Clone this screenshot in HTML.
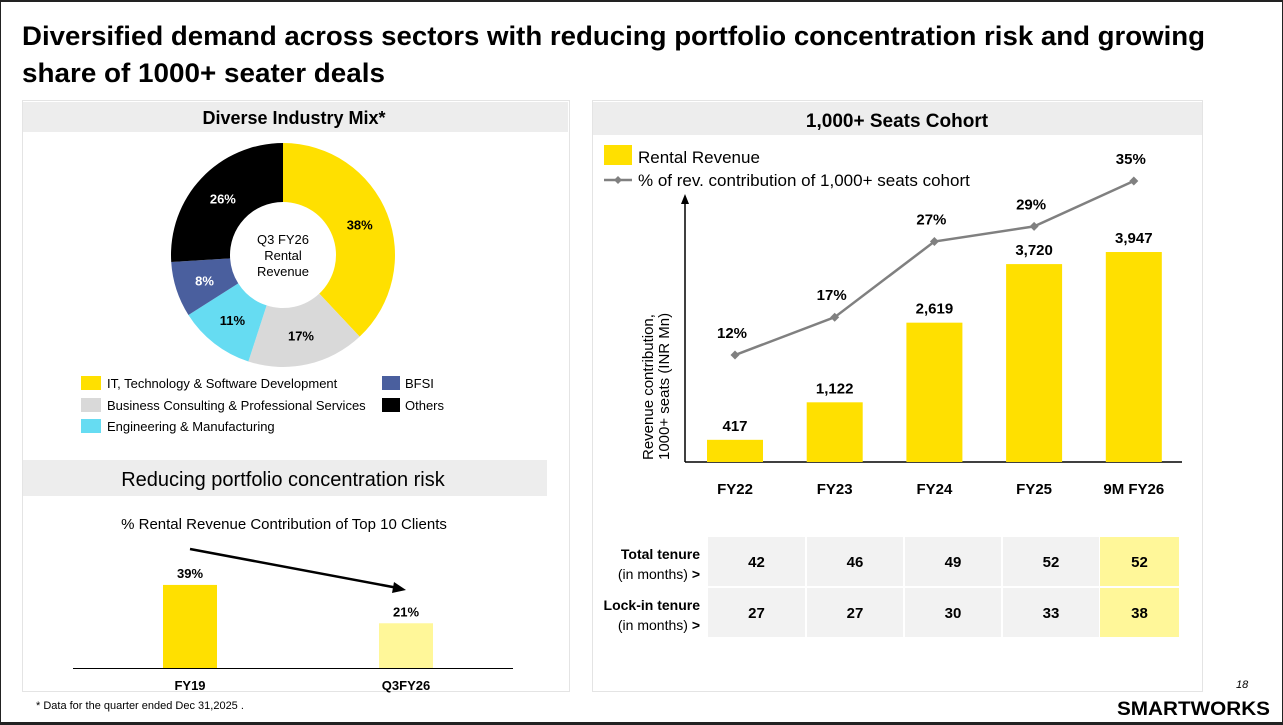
<!DOCTYPE html>
<html><head><meta charset="utf-8"><style>
html,body{margin:0;padding:0;background:#222;}
svg{display:block;font-family:"Liberation Sans",Arial,sans-serif;}
</style></head><body>
<svg id="s" width="1283" height="725" viewBox="0 0 1283 725">
<rect x="1" y="2" width="1281" height="720" fill="#fff"/>
<g font-weight="bold" font-size="27" fill="#000">
<text x="22" y="45" textLength="1183" lengthAdjust="spacingAndGlyphs">Diversified demand across sectors with reducing portfolio concentration risk and growing</text>
<text x="22" y="82" textLength="363" lengthAdjust="spacingAndGlyphs">share of 1000+ seater deals</text>
</g>
<rect x="22.5" y="100.5" width="547" height="591" fill="none" stroke="#c8c8c8" stroke-dasharray="1,1"/>
<rect x="23" y="102" width="545" height="30" fill="#ededed"/>
<text x="294" y="124" text-anchor="middle" font-size="18" font-weight="bold">Diverse Industry Mix*</text>
<g id="donut"></g>
<g id="legendL"></g>
<rect x="23" y="460" width="524" height="36" fill="#ededed"/>
<text x="283" y="486" text-anchor="middle" font-size="20">Reducing portfolio concentration risk</text>
<text x="284" y="529" text-anchor="middle" font-size="15">% Rental Revenue Contribution of Top 10 Clients</text>
<g id="conc"></g>
<line x1="190" y1="549" x2="398" y2="588" stroke="#000" stroke-width="2.5"/>
<polygon points="406,590 394,582 392,593" fill="#000"/>
<text x="36" y="709" font-size="11">* Data for the quarter ended Dec 31,2025 .</text>
<rect x="592.5" y="100.5" width="610" height="591" fill="none" stroke="#c8c8c8" stroke-dasharray="1,1"/>
<rect x="593" y="102" width="609" height="33" fill="#ededed"/>
<text x="897" y="127" text-anchor="middle" font-size="19" font-weight="bold">1,000+ Seats Cohort</text>
<rect x="604" y="145" width="28" height="20" fill="#ffe000"/>
<text x="638" y="163" font-size="17">Rental Revenue</text>
<line x1="604" y1="180" x2="632" y2="180" stroke="#808080" stroke-width="2.5"/>
<polygon points="618,176 622,180 618,184 614,180" fill="#808080"/>
<text x="638" y="186" font-size="17">% of rev. contribution of 1,000+ seats cohort</text>
<text transform="translate(653,460) rotate(-90)" font-size="15"><tspan x="0" y="0">Revenue contribution,</tspan><tspan x="0" y="16">1000+ seats (INR Mn)</tspan></text>
<g id="cohort"></g>
<g id="table"></g>
<text x="1236" y="688" font-size="11" font-style="italic">18</text>
<text x="1270" y="715" text-anchor="end" font-size="19" font-weight="bold" textLength="153" lengthAdjust="spacingAndGlyphs">SMARTWORKS</text>
</svg>
<script>
const NS="http://www.w3.org/2000/svg";
function mk(p,t,a,txt){const e=document.createElementNS(NS,t);for(const k in a)e.setAttribute(k,a[k]);if(txt!==undefined)e.textContent=txt;p.appendChild(e);return e;}
// Donut data
const sectors=["IT, Technology & Software Development","Business Consulting & Professional Services","Engineering & Manufacturing","BFSI","Others"];
const shares=[38,17,11,8,26];
const sectorColors=["#ffe000","#d9d9d9","#66dcf2","#4a5f9e","#000000"];
const donut=document.getElementById('donut');
const cx=283,cy=255,R=112,r=53;
let acc=0;const tot=shares.reduce((a,b)=>a+b,0);
shares.forEach((v,i)=>{
 const a0=acc/tot*2*Math.PI,a1=(acc+v)/tot*2*Math.PI;acc+=v;
 const pt=(rad,a)=>[cx+rad*Math.sin(a),cy-rad*Math.cos(a)];
 const [x0,y0]=pt(R,a0),[x1,y1]=pt(R,a1),[x2,y2]=pt(r,a1),[x3,y3]=pt(r,a0);
 const lg=(a1-a0)>Math.PI?1:0;
 const p=mk(donut,'path',{d:`M${x0},${y0}A${R},${R} 0 ${lg} 1 ${x1},${y1}L${x2},${y2}A${r},${r} 0 ${lg} 0 ${x3},${y3}Z`,fill:sectorColors[i]});
 
 
 const am=(a0+a1)/2,[lx,ly]=pt((R+r)/2,am);
 const t=mk(donut,'text',{x:lx,y:ly+5,'text-anchor':'middle','font-size':13,'font-weight':'bold',fill:(i>=3)?'#fff':'#000'},v+'%');
 
 
});
const ct=mk(donut,'text',{'text-anchor':'middle','font-size':13});


["Q3 FY26","Rental","Revenue"].forEach((s,i)=>mk(ct,'tspan',{x:cx,y:244+i*16},s));
// legend
const lgd=document.getElementById('legendL');
const lpos=[[81,376],[81,398],[81,419],[382,376],[382,398]];
sectors.forEach((s,i)=>{
 const sw=mk(lgd,'rect',{x:lpos[i][0],y:lpos[i][1],width:i>=3?18:20,height:14,fill:sectorColors[i]});
 
 
 const t=mk(lgd,'text',{x:lpos[i][0]+(i>=3?23:26),y:lpos[i][1]+12,'font-size':13},s);
 
 
});
// concentration chart
const concCats=["FY19","Q3FY26"];
const concVals=[39,21];
const concColors=["#ffe000","#fff799"];
const conc=document.getElementById('conc');
const cBase=668,cScale=2.13;
const cX=i=>190+i*216;
mk(conc,'line',{x1:73,y1:cBase+0.5,x2:513,y2:cBase+0.5,stroke:'#000','stroke-width':1});
concVals.forEach((v,i)=>{
 const h=v*cScale;
 const b=mk(conc,'rect',{x:cX(i)-27,y:cBase-h,width:54,height:h,fill:concColors[i]});
 
 
 const t=mk(conc,'text',{x:cX(i),y:cBase-h-7,'text-anchor':'middle','font-size':13,'font-weight':'bold'},v+'%');
 
 
 const c=mk(conc,'text',{x:cX(i),y:690,'text-anchor':'middle','font-size':13,'font-weight':'bold'},concCats[i]);
 
 
});
// cohort chart
const years=["FY22","FY23","FY24","FY25","9M FY26"];
const revenue=[417,1122,2619,3720,3947];
const revLabels=["417","1,122","2,619","3,720","3,947"];
const pct=[12,17,27,29,35];
const totalTenure=[42,46,49,52,52];
const lockTenure=[27,27,30,33,38];
const co=document.getElementById('cohort');
const base=462,xs=i=>735+i*99.7,yb=v=>base-v*0.0532,yp=v=>445.8-v*7.565;
mk(co,'line',{x1:685,y1:462,x2:685,y2:202,stroke:'#000','stroke-width':1.5});
mk(co,'polygon',{points:'685,194 681,204 689,204',fill:'#000'});
mk(co,'line',{x1:685,y1:462,x2:1182,y2:462,stroke:'#000','stroke-width':1.5});
revenue.forEach((v,i)=>{
 const b=mk(co,'rect',{x:xs(i)-28,y:yb(v),width:56,height:base-yb(v),fill:'#ffe000'});
 
 
 const t=mk(co,'text',{x:xs(i),y:yb(v)-9,'text-anchor':'middle','font-size':15,'font-weight':'bold'},revLabels[i]);
 
 
 const c=mk(co,'text',{x:xs(i),y:494,'text-anchor':'middle','font-size':15,'font-weight':'bold'},years[i]);
 
 
});
const ln=mk(co,'polyline',{points:pct.map((v,i)=>xs(i)+','+yp(v)).join(' '),fill:'none',stroke:'#808080','stroke-width':2.5});


pct.forEach((v,i)=>{
 const x=xs(i),y=yp(v);
 const m=mk(co,'polygon',{points:`${x},${y-4.5} ${x+4.5},${y} ${x},${y+4.5} ${x-4.5},${y}`,fill:'#808080'});
 
 
 const t=mk(co,'text',{x:x-3,y:y-17,'text-anchor':'middle','font-size':15,'font-weight':'bold'},v+'%');
 
 
});
// table
const tb=document.getElementById('table');
const colX=[708,807,905,1003,1100],colW=[97,96,96,96,79];
[[totalTenure,537,"Total tenure"],[lockTenure,588,"Lock-in tenure"]].forEach(([arr,y,lab],r)=>{
 const l=mk(tb,'text',{x:700,y:y+22,'text-anchor':'end','font-size':14,'font-weight':'bold'},lab);
 
 
 const l2=mk(tb,'text',{x:700,y:y+42,'text-anchor':'end','font-size':14},'(in months) ');
 mk(l2,'tspan',{'font-weight':'bold'},'>');
 
 
 arr.forEach((v,i)=>{
  const c=mk(tb,'rect',{x:colX[i],y:y,width:colW[i],height:49,fill:i==4?'#fff799':'#f2f2f2'});
  
  
  const t=mk(tb,'text',{x:colX[i]+colW[i]/2,y:y+30,'text-anchor':'middle','font-size':15,'font-weight':'bold'},v);
  
  
 });
});
</script>
</body></html>
